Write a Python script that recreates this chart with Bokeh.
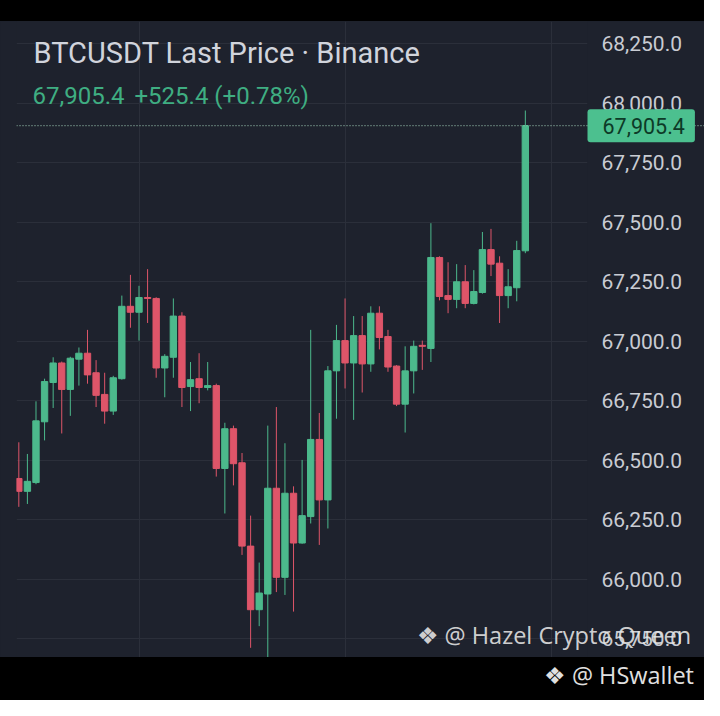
from bokeh.plotting import figure
from bokeh.models import Range1d, FixedTicker, NumeralTickFormatter, Span, Label, Div, ColumnDataSource, BoxAnnotation
from bokeh.layouts import column
from bokeh.embed import file_html
from bokeh.resources import INLINE

# ---- data ----
opens = [66424, 66370, 66407, 66662, 66827, 66909, 66798, 66925, 66950, 66868,
         66777, 66707, 66843, 67147, 67122, 67184, 67180, 66888, 66933, 67106,
         66810, 66843, 66806, 66814, 66466, 66633, 66490, 66140, 65873, 65939,
         66383, 66009, 66362, 66153, 66264, 66588, 66334, 66876, 67003, 66909,
         67024, 66905, 67118, 67020, 66896, 66736, 66876, 66983, 66970, 67352,
         67192, 67176, 67250, 67159, 67205, 67385, 67328, 67192, 67225, 67380]
highs = [66576, 66527, 66748, 66843, 66933, 66915, 66935, 66974, 67048, 66921,
         66868, 66855, 67192, 67279, 67233, 67303, 67185, 66946, 67180, 67122,
         66913, 66950, 66913, 66822, 66658, 66646, 66531, 66268, 66071, 66646,
         66724, 66572, 66391, 66502, 67048, 66699, 66896, 67069, 67180, 67106,
         67106, 67147, 67147, 67048, 66900, 66979, 67003, 67003, 67496, 67357,
         67332, 67324, 67320, 67299, 67459, 67472, 67357, 67303, 67422, 67969]
lows = [66305, 66317, 66400, 66584, 66720, 66613, 66687, 66814, 66822, 66724,
        66654, 66691, 66839, 67057, 67003, 67077, 66847, 66765, 66847, 66724,
        66707, 66740, 66794, 66432, 66277, 66395, 66103, 65713, 65804, 65668,
        65947, 65935, 65865, 66150, 66235, 66145, 66214, 66675, 66802, 66670,
        66785, 66872, 66966, 66872, 66728, 66617, 66781, 66880, 66913, 67172,
        67118, 67139, 67139, 67155, 67200, 67274, 67077, 67139, 67168, 67370]
closes = [66370, 66412, 66666, 66831, 66909, 66798, 66929, 66950, 66859, 66773,
          66707, 66847, 67147, 67122, 67184, 67180, 66888, 66937, 67106, 66806,
          66839, 66806, 66814, 66466, 66633, 66486, 66140, 65873, 65943, 66383,
          66009, 66362, 66153, 66268, 66588, 66334, 66876, 67003, 66909, 67024,
          66905, 67118, 67016, 66892, 66736, 66876, 66979, 66979, 67352, 67188,
          67176, 67250, 67159, 67209, 67385, 67324, 67192, 67229, 67381, 67905.4]
bar_index = list(range(1, len(opens) + 1))

y_ticks = [65750, 66000, 66250, 66500, 66750, 67000, 67250, 67500, 67750, 68000, 68250]
x_grid_ticks = [-9, 15, 39, 63]
last_price = 67905.4
title_text = "BTCUSDT Last Price · Binance"
price_text = "67,905.4"
change_text = "+525.4 (+0.78%)"
last_price_text = "67,905.4"
watermark_text = "❖ @ Hazel Crypto Queen"
footer_text = "❖ @ HSwallet"

# ---- styles ----
BG = "#1e222d"
GRID = "#2b2f3a"
UP = "#4cb98c"
DOWN = "#de5569"
TXT = "#d1d4dc"

colors = [UP if c >= o else DOWN for o, c in zip(opens, closes)]
tops = [max(o, c) for o, c in zip(opens, closes)]
bottoms = [min(o, c) for o, c in zip(opens, closes)]
src = ColumnDataSource(dict(x=bar_index, o=opens, h=highs, l=lows, c=closes,
                            top=tops, bottom=bottoms, color=colors))

X_START, X_END = 0.73, 80.87
PRICE_SCALE_EDGE = 67.21  # where the price-scale strip begins (x index units)

p = figure(width=704, height=636, output_backend="svg", toolbar_location=None,
           x_range=Range1d(X_START, X_END), y_range=Range1d(65672.3, 68342.9),
           x_axis_location=None, y_axis_location="right",
           min_border_left=16, min_border_right=0, min_border_top=0, min_border_bottom=0)
p.background_fill_color = BG
p.border_fill_color = BG
p.outline_line_color = None
p.styles = {"background-color": BG}

p.xgrid.ticker = FixedTicker(ticks=x_grid_ticks)
p.xgrid.grid_line_color = GRID
p.ygrid.grid_line_color = GRID

ax = p.yaxis[0]
ax.ticker = FixedTicker(ticks=y_ticks)
ax.formatter = NumeralTickFormatter(format="0,0.0")
ax.axis_line_color = None
ax.major_tick_line_color = None
ax.minor_tick_line_color = None
ax.major_tick_out = 0
ax.major_tick_in = 0
ax.major_label_standoff = -103
ax.major_label_text_color = "#c9ccd3"
ax.major_label_text_font = "Roboto"
ax.major_label_text_font_size = "21px"

# strip behind the price scale: hides the grid lines there
p.add_layout(BoxAnnotation(left=PRICE_SCALE_EDGE, fill_color=BG, fill_alpha=1.0,
                           line_color=None, level="underlay"))

p.segment(x0="x", y0="l", x1="x", y1="h", line_color="color", line_width=1, source=src)
p.vbar(x="x", width=0.74, top="top", bottom="bottom", fill_color="color",
       line_color="color", line_width=1, source=src)

p.add_layout(Span(location=last_price, dimension="width", line_color="#a8d8c0",
                  line_dash="1 2", line_width=1))

p.add_layout(Label(x=17, y=605, x_units="screen", y_units="screen", text=title_text,
                   text_font="Roboto", text_font_size="29px", text_color=TXT,
                   text_baseline="middle"))
p.add_layout(Label(x=16, y=562, x_units="screen", y_units="screen", text=price_text,
                   text_font="Roboto", text_font_size="24px", text_color="#3fae82",
                   text_baseline="middle"))
p.add_layout(Label(x=118, y=562, x_units="screen", y_units="screen", text=change_text,
                   text_font="Roboto", text_font_size="24px", text_color="#3fae82",
                   text_baseline="middle"))
p.add_layout(Label(x=571, y=last_price, x_units="screen", y_units="data", text=last_price_text,
                   text_font="Roboto", text_font_size="21.5px", text_color="#0d3a27",
                   text_baseline="middle", background_fill_color="#4cc08f",
                   padding=dict(left=15, right=10, top=9, bottom=8), border_radius=3))
p.add_layout(Label(x=400, y=23, x_units="screen", y_units="screen", text=watermark_text,
                   text_font="Open Sans", text_font_size="23.5px", text_color="#e6e6e6",
                   text_alpha=0.9, text_baseline="middle"))

top_band = Div(text="", width=704, height=21, margin=0,
               styles={"background-color": "#000000"})
bottom_band = Div(text=footer_text, width=704, height=43, margin=0,
                  styles={"background-color": "#000000", "color": "#e0e0e0",
                          "font-family": "Open Sans", "font-size": "23.5px",
                          "text-align": "right", "line-height": "36px",
                          "padding-right": "10px", "box-sizing": "border-box"})

layout = column(top_band, p, bottom_band, spacing=0)

open("out.html", "w").write(file_html(layout, INLINE))
